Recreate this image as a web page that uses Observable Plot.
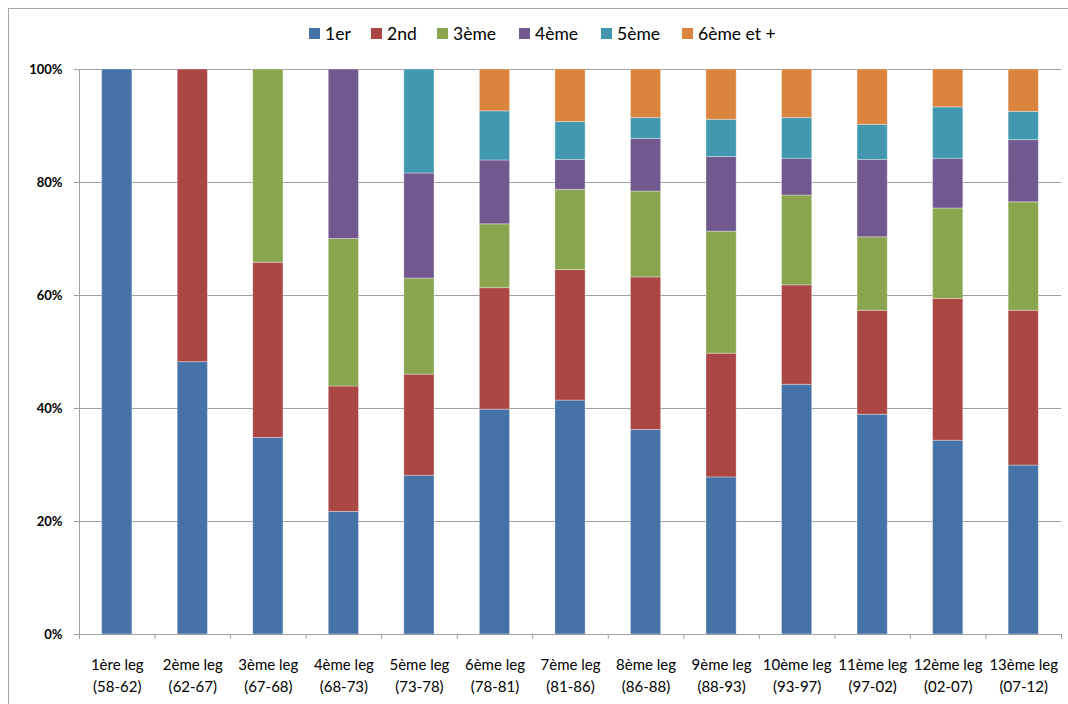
<!DOCTYPE html>
<html><head><meta charset="utf-8">
<script src="https://cdn.jsdelivr.net/npm/d3@7"></script>
<script src="https://cdn.jsdelivr.net/npm/@observablehq/plot@0.6"></script>
<style>
body{margin:0;background:#fff;overflow:hidden;font-family:Lato,"Open Sans",sans-serif;}
#wrap{position:relative;width:1068px;height:704px;overflow:hidden;}
#border{position:absolute;left:8px;top:8px;width:1100px;height:800px;border:1px solid #a6a6a6;box-sizing:border-box;pointer-events:none;}
#legend{position:relative;height:50px;}
#legend .inner{position:absolute;left:309px;top:23px;height:20px;display:flex;align-items:center;font-size:17.5px;color:#000;}
#legend .item{display:flex;align-items:center;box-sizing:border-box;white-space:nowrap;}
#legend .sw{width:11px;height:11px;margin-right:5px;}
#chart svg{display:block;}
</style>
</head><body>
<div id="wrap">
<div id="border"></div>
<div id="legend"><div class="inner"></div></div>
<div id="chart"></div>
</div>
<script>
const legs = ["1ère leg","2ème leg","3ème leg","4ème leg","5ème leg","6ème leg","7ème leg","8ème leg","9ème leg","10ème leg","11ème leg","12ème leg","13ème leg"];
const periods = ["(58-62)","(62-67)","(67-68)","(68-73)","(73-78)","(78-81)","(81-86)","(86-88)","(88-93)","(93-97)","(97-02)","(02-07)","(07-12)"];
const series = ["1er","2nd","3ème","4ème","5ème","6ème et +"];
const colors = ["#4572A7","#AA4643","#89A54E","#71588F","#4198AF","#DB843D"];
const v1er = [100,48.2,34.8,21.7,28.1,39.8,41.4,36.2,27.8,44.2,38.9,34.3,29.9];
const v2nd = [0,51.8,31.0,22.2,17.9,21.5,23.1,27.0,21.9,17.6,18.4,25.1,27.4];
const v3eme = [0,0,34.2,26.1,17.0,11.3,14.2,15.2,21.6,15.9,13.0,16.0,19.2];
const v4eme = [0,0,0,30.0,18.6,11.3,5.3,9.3,13.2,6.5,13.7,8.8,11.0];
const v5eme = [0,0,0,0,18.4,8.7,6.7,3.7,6.6,7.2,6.2,9.1,5.0];
const v6eme = [0,0,0,0,0,7.4,9.3,8.6,8.9,8.6,9.8,6.7,7.5];
const yTicks = [0,20,40,60,80,100];

const seriesValues = [v1er,v2nd,v3eme,v4eme,v5eme,v6eme];
const data = [];
legs.forEach((leg,i)=>{
  series.forEach((s,j)=>{
    const v = seriesValues[j][i];
    if (v > 0) data.push({leg, series: s, value: v});
  });
});

// legend (item widths match the reference's spacing)
const itemWidths = [62,66,82,82,81,null];
const inner = document.querySelector("#legend .inner");
series.forEach((s,j)=>{
  const it = document.createElement("div"); it.className="item";
  if (itemWidths[j]) it.style.width = itemWidths[j] + "px";
  const sw = document.createElement("div"); sw.className="sw"; sw.style.background=colors[j];
  const tx = document.createElement("span"); tx.textContent = s;
  it.appendChild(sw); it.appendChild(tx); inner.appendChild(it);
});

const W=1068, H=654, mL=79, mR=7, mT=19, mB=70;
const step = (W-mL-mR)/legs.length;
const gray = "#a0a0a0";
const plot = Plot.plot({
  width: W, height: H, marginLeft: mL, marginRight: mR, marginTop: mT, marginBottom: mB,
  style: {fontFamily: "Lato, 'Open Sans', sans-serif", background: "transparent", overflow: "visible", color: "black"},
  x: {domain: legs, paddingInner: 0.6, paddingOuter: 0.3, round: false, axis: null},
  y: {domain: [0,100], axis: null, label: null},
  color: {domain: series, range: colors},
  marks: [
    Plot.gridY(yTicks, {stroke: gray, strokeOpacity: 1}),
    Plot.barY(data, Plot.stackY({x: "leg", y: "value", fill: "series", z: "series", stroke: "white", strokeOpacity: 0.35, strokeWidth: 1})),
    Plot.ruleY([0], {stroke: gray}),
    Plot.ruleX([legs[0]], {dx: -step/2, stroke: gray}),
    Plot.axisY(yTicks, {label: null, tickSize: 5, tickPadding: 12, tickFormat: d => d + "%", fontWeight: "bold", fontSize: 13, stroke: gray, fill: "black"}),
    Plot.ruleX(legs, {x: d => d, y1: 0, y2: 0, insetBottom: -5, dx: -step/2, stroke: gray}),
    Plot.ruleX([legs[legs.length-1]], {x: d => d, y1: 0, y2: 0, insetBottom: -5, dx: step/2, stroke: gray}),
    Plot.text(legs, {x: d => d, y: 0, text: (d,i) => d + "\n" + periods[i], lineAnchor: "top", dy: 20, fontSize: 15, lineHeight: 1.45, fill: "black"})
  ]
});
document.getElementById("chart").appendChild(plot);
</script>
</body></html>
